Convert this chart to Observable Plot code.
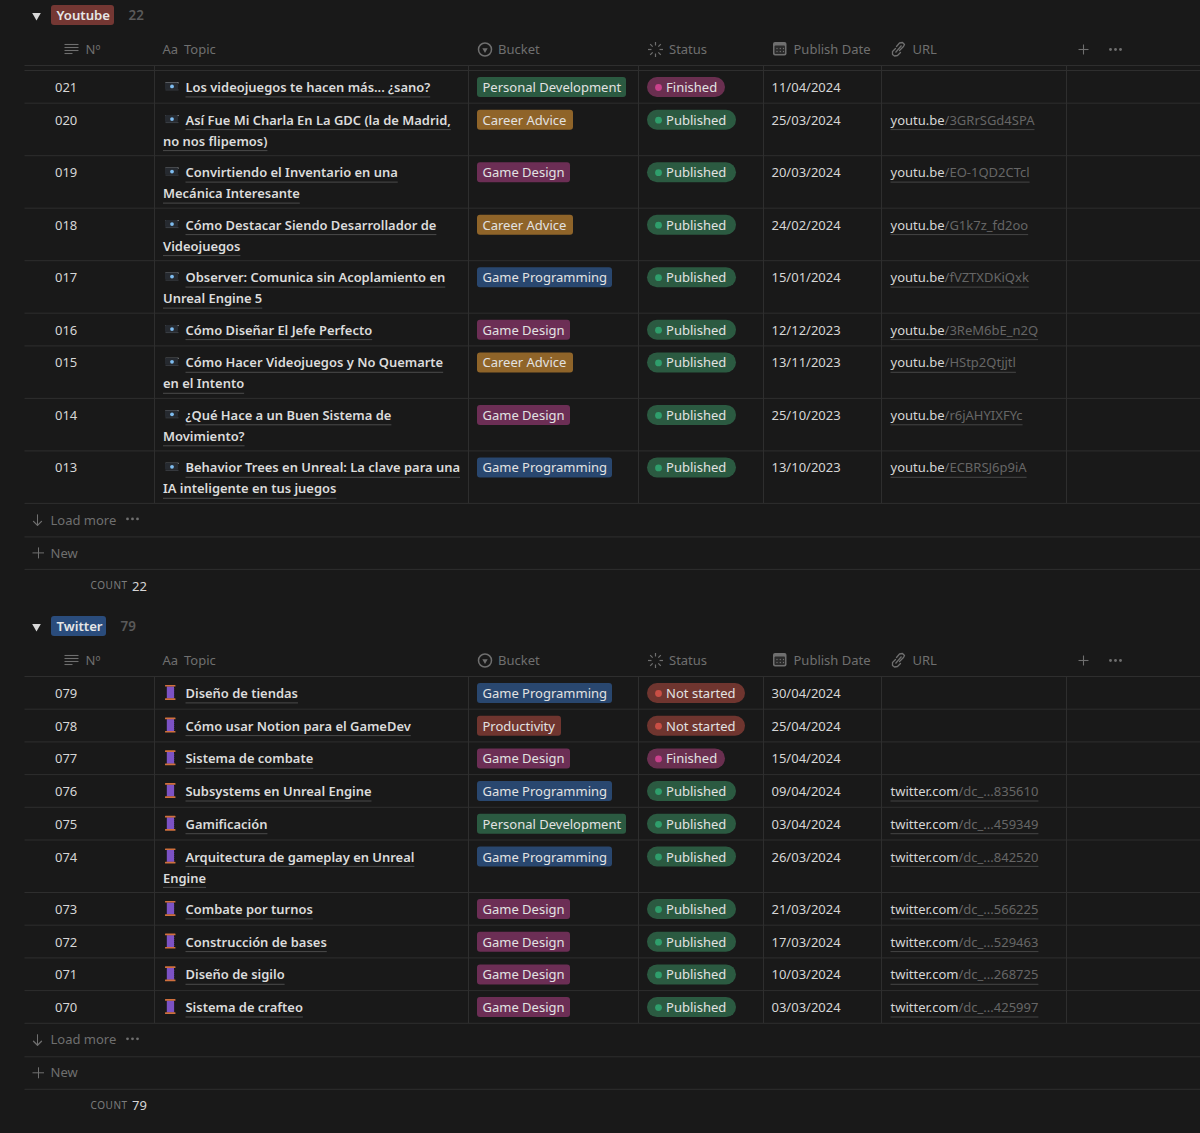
<!DOCTYPE html>
<html><head><meta charset="utf-8">
<script src="https://cdn.jsdelivr.net/npm/d3@7"></script>
<script src="https://cdn.jsdelivr.net/npm/@observablehq/plot@0.6"></script>
<style>html,body{margin:0;padding:0;background:#191919;overflow:hidden}svg{display:block}.ls text{letter-spacing:.55px}</style>
</head><body><div id="chart"></div>
<script>
// ---------- data ----------
const ytNums = ["021","020","019","018","017","016","015","014","013"];
const ytTopics = [
 ["Los videojuegos te hacen más... ¿sano?"],
 ["Así Fue Mi Charla En La GDC (la de Madrid,","no nos flipemos)"],
 ["Convirtiendo el Inventario en una","Mecánica Interesante"],
 ["Cómo Destacar Siendo Desarrollador de","Videojuegos"],
 ["Observer: Comunica sin Acoplamiento en","Unreal Engine 5"],
 ["Cómo Diseñar El Jefe Perfecto"],
 ["Cómo Hacer Videojuegos y No Quemarte","en el Intento"],
 ["¿Qué Hace a un Buen Sistema de","Movimiento?"],
 ["Behavior Trees en Unreal: La clave para una","IA inteligente en tus juegos"]];
const ytBuckets = ["Personal Development","Career Advice","Game Design","Career Advice","Game Programming","Game Design","Career Advice","Game Design","Game Programming"];
const ytStatus = ["Finished","Published","Published","Published","Published","Published","Published","Published","Published"];
const ytDates = ["11/04/2024","25/03/2024","20/03/2024","24/02/2024","15/01/2024","12/12/2023","13/11/2023","25/10/2023","13/10/2023"];
const ytLinks = ["","/3GRrSGd4SPA","/EO-1QD2CTcl","/G1k7z_fd2oo","/fVZTXDKiQxk","/3ReM6bE_n2Q","/HStp2Qtjjtl","/r6jAHYIXFYc","/ECBRSJ6p9iA"];

const twNums = ["079","078","077","076","075","074","073","072","071","070"];
const twTopics = [
 ["Diseño de tiendas"],["Cómo usar Notion para el GameDev"],["Sistema de combate"],
 ["Subsystems en Unreal Engine"],["Gamificación"],["Arquitectura de gameplay en Unreal","Engine"],
 ["Combate por turnos"],["Construcción de bases"],["Diseño de sigilo"],["Sistema de crafteo"]];
const twBuckets = ["Game Programming","Productivity","Game Design","Game Programming","Personal Development","Game Programming","Game Design","Game Design","Game Design","Game Design"];
const twStatus = ["Not started","Not started","Finished","Published","Published","Published","Published","Published","Published","Published"];
const twDates = ["30/04/2024","25/04/2024","15/04/2024","09/04/2024","03/04/2024","26/03/2024","21/03/2024","17/03/2024","10/03/2024","03/03/2024"];
const twLinks = ["","","","/dc_...835610","/dc_...459349","/dc_...842520","/dc_...566225","/dc_...529463","/dc_...268725","/dc_...425997"];

// ---------- layout & style ----------
const FONT = '"Noto Sans", sans-serif';
const BG="#191919", LINE="#2e2e2e", TXT="#d6d6d6", GR="#6f6f6f", LINK="#666666";
const colX=[154,468,638,763,881,1066];
const bucketStyle={"Personal Development":{f:"#2b5a41",w:149},"Career Advice":{f:"#8f6429",w:96},"Game Design":{f:"#6c2e55",w:93},"Game Programming":{f:"#29476f",w:135},"Productivity":{f:"#6f352f",w:84}};
const statusStyle={"Finished":{f:"#6a2f50",d:"#c9428c",w:78},"Published":{f:"#2b5a41",d:"#2f9e6c",w:89},"Not started":{f:"#6f352f",d:"#c94f45",w:98}};
const ctx=document.createElement("canvas").getContext("2d");
const FS=13, FSB=12.95;
const measure=(s,w=400,fs=FS)=>{ctx.font=`${w} ${fs}px "Noto Sans"`;return ctx.measureText(s).width;};

const rects=[],rules=[],texts=[],dots=[],lines=[],tris=[];
const R=(x1,y1,x2,y2,fill,r=3)=>rects.push({x1,y1,x2,y2,fill,r});
const L=(x1,y1,x2,y2,c=LINE,w=1)=>rules.push({x1,y1,x2,y2,c,w});
const T=(x,y,t,c=TXT,o={})=>texts.push({x,y,t,c,fs:o.fs||FS,w:o.w||400,ls:o.ls||0});
const D=(x,y,c,r=3,s="none")=>dots.push({x,y,c,r,s});
const P=(id,c,pts)=>pts.forEach(p=>lines.push({id,c,x:p[0],y:p[1]}));
const threeDots=(x,y,c)=>{[0,5,10].forEach(k=>D(x+k,y,c,1.4));};
let pid=0;

function eye(y){
  R(165,y-5,178,y+2,"#262a30",1);
  L(165,y-5,178,y-5,"#d5d9de",1);
  L(165,y+2,178,y+2,"#3c4047",1);
  D(171.5,y-1.5,"#7fbdf0",1.9);
}
function spool(y){
  R(166.8,y-7,174,y+5,"#7c52c4",0);
  [-5,-3,-1,1,3].forEach(k=>L(166.8,y+k,174,y+k,"#6039a0",.7));
  R(165,y-8.5,175.5,y-6.8,"#d0703d",.5);
  R(165,y+4.8,175.5,y+6.5,"#d0703d",.5);
}
function headerRow(y){
  [-5,-2,1,4].forEach((k,i)=>L(64,y+k,i==3?72:78,y+k,GR,1.1));
  T(85,y,"Nº",GR);
  T(162,y,"Aa",GR);T(183.5,y,"Topic",GR);
  D(484.5,y,"none",6.5,GR);
  tris.push({x:484.5,y:y+.3,c:GR,r:2});
  T(497.5,y,"Bucket",GR);
  d3.range(8).forEach(i=>{const a=i*Math.PI/4;L(655+4*Math.cos(a),y+4*Math.sin(a),655+7.5*Math.cos(a),y+7.5*Math.sin(a),GR,1.2);});
  T(668.5,y,"Status",GR);
  R(773,y-7,786.5,y+6.5,GR,2);R(774.5,y-3.5,785,y+5,"#2b2b2b",1);
  [-1,2].forEach(k=>[776.5,779.8,783].forEach(q=>D(q,y+k,GR,.7)));
  T(793,y,"Publish Date",GR);
  P(pid++,GR,[[895,y-1],[892,y+2],[892,y+5],[894,y+6.5],[897,y+6],[900,y+3]]);
  P(pid++,GR,[[899,y+1],[903,y-3],[904,y-5],[902,y-7],[899,y-6.5],[896,y-3]]);
  L(895,y+3,901,y-4,GR,1.2);
  T(912,y,"URL",GR);
  L(1083,y-5,1083,y+5,GR,1.1);L(1078,y,1088,y,GR,1.1);
  threeDots(1110,y,GR);
}
function section(o){
  // group header
  tris.push({x:36,y:o.top,c:"#d8d8d8",r:3.2});
  R(51,o.top-10,o.tagW+51,o.top+10,o.tagFill,3);
  T(56,o.top+.5,o.name,"#e6e6e6",{w:600,fs:13.2});
  T(o.countX,o.top+.5,o.count,"#5a5a5a",{w:600,fs:13.4});
  headerRow(o.top+34);
  const hl=o.top+50;
  L(24,hl,1200,hl);
  let y=o.rowStart;
  if(o.rowStart!==hl) L(24,y,1200,y);
  const colTop=hl;
  o.nums.forEach((n,i)=>{
    const tp=o.topics[i],dbl=tp.length>1,h=dbl?52.5:32.7,c=y+17.4;
    T(54.5,c,n);
    o.icon(c);
    tp.forEach((s,j)=>{
      const x=j==0?185:162.5,ly=c+j*21;
      T(x,ly,s,"#dcdcdc",{w:600,fs:FSB});
      L(x,ly+9,x+measure(s,600,FSB),ly+9,"#4a4a4a",1);
    });
    const b=bucketStyle[o.buckets[i]],st=statusStyle[o.status[i]];
    R(477,y+7,477+b.w,y+27,b.f,3);
    T(482,c,o.buckets[i],"#e2e2e2");
    R(647,y+7,647+st.w,y+27,st.f,10);
    D(658,y+17,st.d,3.4);
    T(665.6,c,o.status[i],"#e2e2e2");
    T(771,c,o.dates[i]);
    if(o.links[i]){
      const w=measure(o.domain);
      T(890,c,o.domain,TXT);
      T(890+w,c,o.links[i],LINK);
      L(890,c+9,890+w+measure(o.links[i]),c+9,"#454545",1);
    }
    y+=h;
    L(24,y,1200,y);
  });
  colX.forEach(x=>L(x,colTop,x,y));
  // footer
  L(37,y+11,37,y+22,GR,1);
  P(pid++,GR,[[33,y+18],[37,y+22],[41,y+18]]);
  T(50,y+17,"Load more",GR);threeDots(127,y+15.5,GR);
  L(24,y+33.5,1200,y+33.5);
  L(38,y+44,38,y+55,GR,1);L(32,y+49.5,43.5,y+49.5,GR,1);T(50,y+50,"New",GR);
  L(24,y+66,1200,y+66);
  T(90,y+82.5,"COUNT","#7c7c7c",{fs:10,ls:1});
  T(131.5,y+83,o.count,TXT);
}
section({top:15,name:"Youtube",tagW:63,tagFill:"#743733",count:"22",countX:128,rowStart:70,nums:ytNums,topics:ytTopics,buckets:ytBuckets,status:ytStatus,dates:ytDates,links:ytLinks,domain:"youtu.be",icon:eye});
section({top:626,name:"Twitter",tagW:55,tagFill:"#2a4c7c",count:"79",countX:120,rowStart:676,nums:twNums,topics:twTopics,buckets:twBuckets,status:twStatus,dates:twDates,links:twLinks,domain:"twitter.com",icon:spool});

// ---------- chart ----------
const textMark=(data)=>Plot.text(data,{x:"x",y:"y",text:"t",fill:"c",textAnchor:"start",fontSize:data[0].fs,fontWeight:data[0].w,fontFamily:FONT,lineAnchor:"middle",className:data[0].ls?"ls":undefined});
const groups=d3.groups(texts,d=>`${d.fs}|${d.w}|${d.ls}`).map(g=>g[1]);
const radii=d3.groups(rects,d=>d.r).map(g=>g[1]);
const chart=Plot.plot({
  width:1200,height:1133,margin:0,
  style:{background:BG,fontFamily:FONT},
  x:{domain:[0,1200],range:[0,1200],axis:null},
  y:{domain:[0,1133],range:[0,1133],axis:null},
  r:{type:"identity"},
  marks:[
    ...d3.groups(rules,d=>d.w).map(([w,data])=>Plot.link(data,{x1:"x1",y1:"y1",x2:"x2",y2:"y2",stroke:"c",strokeWidth:w})),
    ...radii.map(data=>Plot.rect(data,{x1:"x1",x2:"x2",y1:"y1",y2:"y2",fill:"fill",rx:data[0].r})),
    Plot.dot(dots,{x:"x",y:"y",r:"r",fill:"c",stroke:"s"}),
    Plot.dot(tris,{x:"x",y:"y",r:"r",fill:"c",symbol:"triangle",rotate:180}),
    Plot.line(lines,{x:"x",y:"y",z:"id",stroke:"c",strokeWidth:1.3,fill:"none"}),
    ...groups.map(textMark)
  ]
});
document.getElementById("chart").appendChild(chart);
</script></body></html>
